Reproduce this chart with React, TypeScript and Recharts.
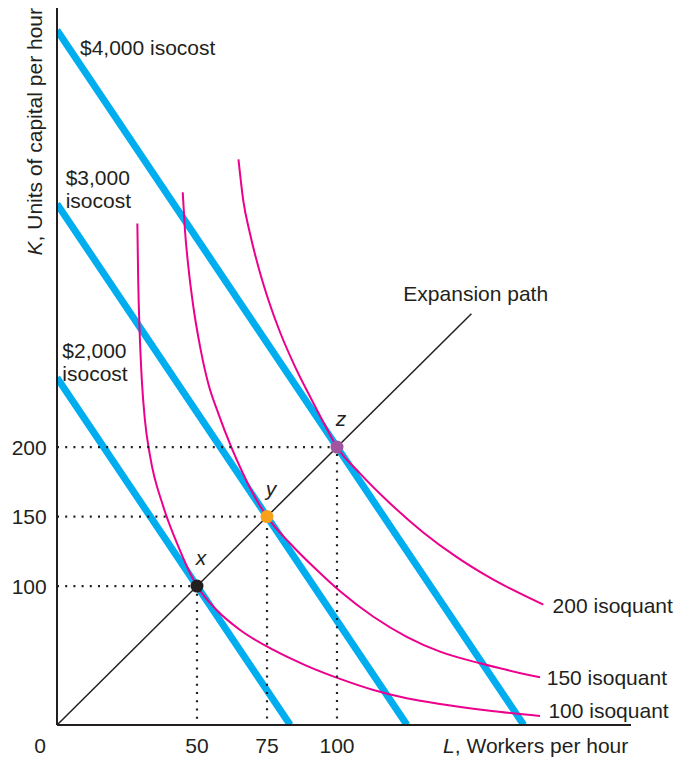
import React from "react";
import { ComposedChart, Line, XAxis, YAxis, ReferenceDot } from "recharts";

// isocost lines, drawn between their two axis intercepts (L, K)
const isocost2000 = [
  { L: 0, K: 250 },
  { L: 83.3, K: 0 },
];
const isocost3000 = [
  { L: 0, K: 375 },
  { L: 125, K: 0 },
];
const isocost4000 = [
  { L: 0, K: 500 },
  { L: 166.7, K: 0 },
];

// isoquants
const isoquant100 = [
  { L: 28.7, K: 361 },
  { L: 29.0, K: 320 },
  { L: 29.5, K: 284 },
  { L: 30.3, K: 248 },
  { L: 31.4, K: 219.5 },
  { L: 33.2, K: 194 },
  { L: 38.0, K: 157 },
  { L: 42.8, K: 131 },
  { L: 50, K: 100 },
  { L: 57.0, K: 82.8 },
  { L: 65.4, K: 68.4 },
  { L: 77.3, K: 54 },
  { L: 89.2, K: 42.6 },
  { L: 101.1, K: 33.2 },
  { L: 113.0, K: 25.2 },
  { L: 124.9, K: 19.2 },
  { L: 136.8, K: 15.1 },
  { L: 154.6, K: 10.3 },
  { L: 172.5, K: 6.5 },
];
const isoquant150 = [
  { L: 44.9, K: 383.4 },
  { L: 45.7, K: 356.2 },
  { L: 46.9, K: 330 },
  { L: 48.7, K: 301 },
  { L: 51.1, K: 272.3 },
  { L: 54.0, K: 245.9 },
  { L: 57.6, K: 224.3 },
  { L: 62.4, K: 199.3 },
  { L: 65.4, K: 185.5 },
  { L: 70.1, K: 166.2 },
  { L: 75, K: 150 },
  { L: 83.2, K: 130.8 },
  { L: 92.8, K: 111.5 },
  { L: 101.1, K: 96.2 },
  { L: 113.0, K: 77.9 },
  { L: 124.9, K: 63.5 },
  { L: 136.8, K: 52.8 },
  { L: 151.1, K: 44.4 },
  { L: 172.5, K: 34.3 },
];
const isoquant200 = [
  { L: 64.8, K: 407.1 },
  { L: 66.5, K: 377.8 },
  { L: 68.9, K: 353.9 },
  { L: 71.9, K: 329.8 },
  { L: 75.5, K: 305.9 },
  { L: 79.6, K: 283 },
  { L: 85.0, K: 257.9 },
  { L: 91.0, K: 233.9 },
  { L: 96.3, K: 213.5 },
  { L: 100, K: 200 },
  { L: 108.2, K: 181.1 },
  { L: 118.9, K: 159.6 },
  { L: 130.8, K: 138.6 },
  { L: 142.8, K: 120.8 },
  { L: 154.6, K: 106 },
  { L: 173.7, K: 86.6 },
];

const expansionPath = [
  { L: 0, K: 0 },
  { L: 148, K: 296 },
];

const optimumPoints = [
  { name: "x", L: 50, K: 100 },
  { name: "y", L: 75, K: 150 },
  { name: "z", L: 100, K: 200 },
];

const xTicks = [0, 50, 75, 100];
const yTicks = [100, 150, 200];

// text annotations, anchored at (L, K) = left end of the first baseline
const curveLabels = [
  { L: 8.2, K: 482, lines: ["$4,000 isocost"] },
  { L: 3.1, K: 388.5, lines: ["$3,000", "isocost"] },
  { L: 1.9, K: 263.8, lines: ["$2,000", "isocost"] },
  { L: 123.7, K: 305.3, lines: ["Expansion path"] },
  { L: 177, K: 80.4, lines: ["200 isoquant"] },
  { L: 174.9, K: 28.8, lines: ["150 isoquant"] },
  { L: 175.5, K: 5.3, lines: ["100 isoquant"] },
];

const INK = "#231f20";
const CYAN = "#00aeef";
const MAGENTA = "#ec008c";
const FONT = "'Liberation Sans', Arial, Helvetica, sans-serif";
const FS = 21;
const pointColors: Record<string, string> = { x: INK, y: "#f7a11a", z: "#a0559e" };

// dotted guides from each optimum to both axes
const guides = optimumPoints.map((p) => [
  { L: 0, K: p.K },
  { L: p.L, K: p.K },
  { L: p.L, K: 0 },
]);

const XTick = (props: any) => {
  const { x, y, payload } = props;
  const shift = payload.value === 0 ? -17 : 0;
  return (
    <text x={x + shift} y={y} dy="0.71em" textAnchor="middle" fill={INK} fontSize={FS}>
      {payload.value}
    </text>
  );
};

const YTitle = (props: any) => {
  const vb = props.viewBox;
  const x = vb.x + 41.7;
  const y = vb.y;
  return (
    <text x={x} y={y} transform={`rotate(-90, ${x}, ${y})`} textAnchor="end" fill={INK} fontSize={FS}>
      <tspan fontStyle="italic">K</tspan>, Units of capital per hour
    </text>
  );
};

const XTitle = (props: any) => {
  const vb = props.viewBox;
  return (
    <text x={vb.x + vb.width - 2.7} y={vb.y + 28.3} textAnchor="end" fill={INK} fontSize={FS}>
      <tspan fontStyle="italic">L</tspan>, Workers per hour
    </text>
  );
};

const App: React.FC = () => {
  return (
    <div style={{ position: "absolute", left: 0, top: 0, fontFamily: FONT }}>
      <ComposedChart width={693} height={762} margin={{ top: 8, right: 62, bottom: 0, left: 0 }}>
        <XAxis
          dataKey="L"
          type="number"
          domain={[0, 205]}
          ticks={xTicks}
          allowDataOverflow
          height={37}
          tickLine={false}
          tickSize={6}
          tickMargin={7.4}
          axisLine={{ stroke: INK, strokeWidth: 2 }}
          tick={<XTick />}
          label={{ content: <XTitle /> }}
        />
        <YAxis
          dataKey="K"
          type="number"
          domain={[0, 516]}
          ticks={yTicks}
          allowDataOverflow
          width={57}
          tickLine={false}
          tickSize={6}
          tickMargin={4.3}
          axisLine={{ stroke: INK, strokeWidth: 2 }}
          tick={{ fill: INK, fontSize: FS }}
          label={{ content: <YTitle /> }}
        />

        {[isocost2000, isocost3000, isocost4000].map((d, i) => (
          <Line
            key={`cost-${i}`}
            data={d}
            dataKey="K"
            type="linear"
            stroke={CYAN}
            strokeWidth={7}
            dot={false}
            activeDot={false}
            isAnimationActive={false}
          />
        ))}

        <Line
          data={expansionPath}
          dataKey="K"
          type="linear"
          stroke={INK}
          strokeWidth={1.5}
          dot={false}
          activeDot={false}
          isAnimationActive={false}
        />

        {[isoquant100, isoquant150, isoquant200].map((d, i) => (
          <Line
            key={`quant-${i}`}
            data={d}
            dataKey="K"
            type="monotone"
            stroke={MAGENTA}
            strokeWidth={2}
            dot={false}
            activeDot={false}
            isAnimationActive={false}
          />
        ))}

        {guides.map((d, i) => (
          <Line
            key={`guide-${i}`}
            data={d}
            dataKey="K"
            type="linear"
            stroke={INK}
            strokeWidth={2.2}
            strokeDasharray="2 6.2"
            dot={false}
            activeDot={false}
            isAnimationActive={false}
          />
        ))}

        {optimumPoints.map((p) => (
          <ReferenceDot
            key={`pt-${p.name}`}
            x={p.L}
            y={p.K}
            r={6.5}
            shape={(s: any) => (
              <g>
                <circle cx={s.cx} cy={s.cy} r={6.5} fill={pointColors[p.name]} />
                <text x={s.cx + 4} y={s.cy - 21} textAnchor="middle" fontStyle="italic" fill={INK} fontSize={FS}>
                  {p.name}
                </text>
              </g>
            )}
          />
        ))}

        {curveLabels.map((lab, i) => (
          <ReferenceDot
            key={`lab-${i}`}
            x={lab.L}
            y={lab.K}
            r={0}
            shape={(s: any) => (
              <text x={s.cx} y={s.cy} fill={INK} fontSize={FS}>
                {lab.lines.map((t, j) => (
                  <tspan key={j} x={s.cx} dy={j === 0 ? 0 : 23}>
                    {t}
                  </tspan>
                ))}
              </text>
            )}
          />
        ))}
      </ComposedChart>
    </div>
  );
};

export default App;
